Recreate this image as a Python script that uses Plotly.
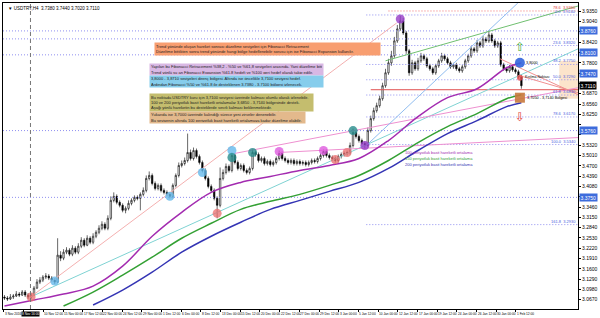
import plotly.graph_objects as go

# ---------------- data (USDTRY H4) ----------------
bars = list(range(176))
opens = [3.075,3.072,3.069,3.075,3.078,3.084,3.081,3.090,3.081,3.075,
3.081,3.102,3.120,3.126,3.135,3.138,3.132,3.126,3.120,3.201,
3.192,3.210,3.216,3.204,3.222,3.210,3.228,3.246,3.231,3.252,
3.240,3.258,3.270,3.282,3.294,3.282,3.312,3.366,3.378,3.360,
3.351,3.336,3.342,3.357,3.366,3.375,3.372,3.384,3.396,3.432,
3.441,3.417,3.402,3.411,3.396,3.390,3.384,3.378,3.411,3.441,
3.471,3.477,3.486,3.510,3.492,3.516,3.498,3.480,3.456,3.432,
3.408,3.396,3.372,3.351,3.432,3.450,3.468,3.456,3.501,3.480,
3.462,3.471,3.456,3.450,3.462,3.510,3.504,3.486,3.492,3.477,
3.483,3.474,3.480,3.492,3.507,3.492,3.486,3.480,3.486,3.477,
3.483,3.477,3.480,3.474,3.480,3.486,3.483,3.492,3.501,3.513,
3.501,3.495,3.492,3.486,3.498,3.504,3.507,3.510,3.531,3.570,
3.558,3.546,3.537,3.531,3.576,3.612,3.636,3.651,3.672,3.711,
3.750,3.780,3.801,3.846,3.882,3.906,3.870,3.816,3.750,3.780,
3.762,3.786,3.801,3.792,3.771,3.762,3.750,3.771,3.786,3.801,
3.792,3.780,3.768,3.774,3.762,3.756,3.768,3.786,3.801,3.822,
3.816,3.840,3.831,3.852,3.846,3.864,3.846,3.831,3.840,3.774,
3.762,3.756,3.768,3.759,3.753,3.738]
highs = [3.081,3.078,3.084,3.084,3.093,3.090,3.096,3.096,3.087,3.087,
3.108,3.129,3.135,3.141,3.147,3.144,3.138,3.132,3.252,3.213,
3.219,3.225,3.222,3.231,3.228,3.237,3.255,3.252,3.261,3.258,
3.267,3.276,3.291,3.303,3.300,3.321,3.378,3.390,3.384,3.366,
3.357,3.348,3.366,3.372,3.381,3.381,3.390,3.405,3.441,3.453,
3.447,3.423,3.417,3.417,3.402,3.396,3.390,3.417,3.447,3.480,
3.486,3.495,3.567,3.519,3.525,3.522,3.504,3.486,3.462,3.438,
3.414,3.402,3.378,3.465,3.459,3.477,3.474,3.510,3.507,3.486,
3.477,3.477,3.462,3.468,3.519,3.516,3.510,3.498,3.498,3.489,
3.489,3.486,3.498,3.516,3.513,3.498,3.492,3.492,3.492,3.489,
3.489,3.486,3.486,3.486,3.492,3.492,3.498,3.507,3.519,3.519,
3.507,3.501,3.498,3.504,3.510,3.513,3.516,3.540,3.582,3.576,
3.564,3.552,3.543,3.585,3.621,3.645,3.660,3.681,3.720,3.762,
3.792,3.816,3.858,3.894,3.921,3.915,3.876,3.822,3.789,3.786,
3.795,3.810,3.807,3.798,3.777,3.768,3.777,3.792,3.810,3.807,
3.798,3.786,3.780,3.780,3.768,3.774,3.792,3.807,3.831,3.828,
3.849,3.846,3.861,3.858,3.876,3.870,3.852,3.846,3.846,3.780,
3.768,3.774,3.774,3.765,3.759,3.744]
lows = [3.066,3.063,3.066,3.069,3.075,3.075,3.078,3.075,3.069,3.069,
3.078,3.099,3.114,3.120,3.129,3.126,3.120,3.114,3.117,3.183,
3.186,3.204,3.198,3.198,3.204,3.204,3.222,3.225,3.228,3.234,
3.234,3.252,3.264,3.276,3.276,3.276,3.306,3.360,3.354,3.345,
3.330,3.327,3.336,3.351,3.360,3.366,3.336,3.378,3.390,3.426,
3.411,3.396,3.396,3.390,3.384,3.378,3.372,3.372,3.405,3.435,
3.465,3.471,3.480,3.486,3.486,3.492,3.474,3.450,3.426,3.402,
3.390,3.366,3.312,3.345,3.426,3.444,3.450,3.450,3.474,3.456,
3.456,3.450,3.444,3.444,3.456,3.498,3.480,3.480,3.471,3.471,
3.468,3.468,3.474,3.486,3.486,3.480,3.474,3.474,3.471,3.471,
3.471,3.471,3.468,3.468,3.474,3.477,3.477,3.486,3.495,3.495,
3.489,3.486,3.480,3.480,3.492,3.498,3.501,3.504,3.525,3.552,
3.540,3.531,3.522,3.525,3.570,3.606,3.630,3.645,3.666,3.705,
3.744,3.771,3.795,3.840,3.876,3.864,3.807,3.741,3.744,3.756,
3.756,3.780,3.786,3.765,3.756,3.744,3.744,3.765,3.780,3.786,
3.774,3.762,3.762,3.756,3.750,3.750,3.762,3.780,3.795,3.810,
3.810,3.825,3.825,3.840,3.840,3.840,3.825,3.825,3.768,3.756,
3.750,3.750,3.753,3.747,3.732,3.702]
closes = [3.072,3.069,3.075,3.078,3.084,3.081,3.090,3.081,3.075,3.081,
3.102,3.120,3.126,3.135,3.138,3.132,3.126,3.120,3.201,3.192,
3.210,3.216,3.204,3.222,3.210,3.228,3.246,3.231,3.252,3.240,
3.258,3.270,3.282,3.294,3.282,3.312,3.366,3.378,3.360,3.351,
3.336,3.342,3.357,3.366,3.375,3.372,3.384,3.396,3.432,3.441,
3.417,3.402,3.411,3.396,3.390,3.384,3.378,3.411,3.441,3.471,
3.477,3.486,3.510,3.492,3.516,3.498,3.480,3.456,3.432,3.408,
3.396,3.372,3.351,3.432,3.450,3.468,3.456,3.501,3.480,3.462,
3.471,3.456,3.450,3.462,3.510,3.504,3.486,3.492,3.477,3.483,
3.474,3.480,3.492,3.507,3.492,3.486,3.480,3.486,3.477,3.483,
3.477,3.480,3.474,3.480,3.486,3.483,3.492,3.501,3.513,3.501,
3.495,3.492,3.486,3.498,3.504,3.507,3.510,3.531,3.570,3.558,
3.546,3.537,3.531,3.576,3.612,3.636,3.651,3.672,3.711,3.750,
3.780,3.801,3.846,3.882,3.906,3.870,3.816,3.750,3.780,3.762,
3.786,3.801,3.792,3.771,3.762,3.750,3.771,3.786,3.801,3.792,
3.780,3.768,3.774,3.762,3.756,3.768,3.786,3.801,3.822,3.816,
3.840,3.831,3.852,3.846,3.864,3.846,3.831,3.840,3.774,3.762,
3.756,3.768,3.759,3.753,3.738,3.711]

# moving averages
ma100_x = [0,10,20,30,40,50,60,70,80,90,100,110,120,130,140,150,160,170,175]
ma100_y = [3.048,3.066,3.084,3.108,3.168,3.258,3.330,3.390,3.420,3.438,3.456,3.471,3.492,3.546,3.618,3.675,3.702,3.765,3.780]
ma150_x = [20,30,40,50,60,70,80,90,100,110,120,130,140,150,160,170,175]
ma150_y = [3.048,3.090,3.141,3.195,3.252,3.297,3.339,3.363,3.384,3.411,3.441,3.486,3.540,3.588,3.627,3.672,3.684]
ma200_x = [30,40,50,60,70,80,90,100,110,120,130,140,150,160,170,175]
ma200_y = [3.051,3.096,3.150,3.210,3.258,3.300,3.339,3.366,3.393,3.420,3.462,3.516,3.567,3.606,3.648,3.660]
ma_names = ["100 periyotluk basit hareketli ortalama",
            "150 periyotluk basit hareketli ortalama",
            "200 periyotluk basit hareketli ortalama"]

# time axis labels (None = hidden under the crosshair date box)
x_labels = ["3 Nov 2016", None, "10 Nov 12:00", "15 Nov 00:00", "17 Nov 12:00",
            "22 Nov 00:00", "24 Nov 12:00", "29 Nov 00:00", "1 Dec 12:00", "6 Dec 00:00",
            "8 Dec 12:00", "13 Dec 00:00", "15 Dec 12:00", "20 Dec 00:00", "22 Dec 12:00",
            "27 Dec 00:00", "29 Dec 12:00", "3 Jan 00:00", "5 Jan 12:00", "10 Jan 00:00",
            "12 Jan 12:00", "17 Jan 00:00", "19 Jan 12:00", "24 Jan 00:00", "26 Jan 12:00",
            "30 Jan 00:00", "1 Feb 12:00"]
crosshair_bar = 8.8
crosshair_label = "8 Nov 16:00"

# horizontal levels
full_levels = [3.876, 3.852, 3.804, 3.576, 3.375]
fib_names = ["0.0", "23.6", "38.2", "50.0", "61.8", "78.6", "100.0", "161.8"]
fib_prices = [3.924, 3.832, 3.775, 3.729, 3.683, 3.617, 3.534, 3.293]
fib_start_bar = 122.5
red_fib_name = "78.6"
red_fib_price = 3.936
red_fib_start_bar = 130
break_level = 3.699
break_start_bar = 124
axis_marks = [3.876, 3.810, 3.747, 3.576, 3.375]
zone_top, zone_bottom = 3.786, 3.672

# trend lines (bar index, price)
trend_lines = [
    dict(x=[8.8, 194.2], y=[3.075, 3.822], color="#7FD3D3"),
    dict(x=[8.8, 132.8], y=[3.075, 3.900], color="#F4B0B0"),
    dict(x=[77.8, 194.2], y=[3.507, 3.705], color="#EE90D0"),
    dict(x=[92.8, 194.2], y=[3.510, 3.555], color="#EE90D0"),
    dict(x=[122.5, 173.8], y=[3.531, 3.960], color="#90BDF0"),
    dict(x=[129.0, 194.2], y=[3.786, 3.951], color="#70C070"),
    dict(x=[167.8, 194.2], y=[3.792, 3.684], color="#F09090"),
    dict(x=[174.5, 194.2], y=[3.741, 3.690], color="#F09090"),
]

# swing point markers
red_x, red_y = [9, 72, 112, 116], [3.075, 3.327, 3.489, 3.510]
lblue_x, lblue_y = [17, 56, 67, 77], [3.123, 3.378, 3.450, 3.516]
teal_x, teal_y = [77, 84, 118], [3.495, 3.510, 3.576]
mag_x, mag_y = [93, 108], [3.513, 3.516]
purp_x, purp_y = [122, 134], [3.531, 3.912]
last_bar = 174.5
target_up, break_pt, target_dn = 3.780, 3.735, 3.675
arrow_up_price, arrow_dn_price = 3.801, 3.645

# ---------------- figure ----------------
L, R, T, B = 2, 586, 2, 309
W, H = 600, 318
XMAX = -0.5 + (R - L) / 3.0
YMIN, YMAX = 3.039, 3.960
FONT = "Liberation Sans"

def px(x):
    return (x - L) / (R - L)

def py(y):
    return (B - y) / (B - T)

fig = go.Figure()
dotted = "1px,2px"
for lv in full_levels:
    fig.add_trace(go.Scatter(x=[-0.5, XMAX], y=[lv, lv], mode="lines",
                             line=dict(color="#8F8FF0", width=1, dash=dotted), hoverinfo="skip"))
for lv in fib_prices:
    fig.add_trace(go.Scatter(x=[fib_start_bar, XMAX], y=[lv, lv], mode="lines",
                             line=dict(color="#8F8FF0", width=1, dash=dotted), hoverinfo="skip"))
fig.add_trace(go.Scatter(x=[red_fib_start_bar, XMAX], y=[red_fib_price, red_fib_price], mode="lines",
                         line=dict(color="#F07070", width=1, dash=dotted), hoverinfo="skip"))
fig.add_trace(go.Scatter(x=[break_start_bar, XMAX], y=[break_level, break_level], mode="lines",
                         line=dict(color="#E05050", width=1), hoverinfo="skip"))
for tl in trend_lines:
    fig.add_trace(go.Scatter(x=tl["x"], y=tl["y"], mode="lines",
                             line=dict(color=tl["color"], width=1), hoverinfo="skip"))

ma_colors = ["#A32BB0", "#33A033", "#3434B4"]
for xs, ys, c in [(ma100_x, ma100_y, ma_colors[0]), (ma150_x, ma150_y, ma_colors[1]), (ma200_x, ma200_y, ma_colors[2])]:
    fig.add_trace(go.Scatter(x=xs, y=ys, mode="lines", line=dict(color=c, width=1.5, shape="spline"),
                             hoverinfo="skip"))

fig.add_trace(go.Candlestick(x=bars, open=opens, high=highs, low=lows, close=closes,
                             increasing=dict(line=dict(color="black", width=0.6), fillcolor="white"),
                             decreasing=dict(line=dict(color="black", width=0.6), fillcolor="black"),
                             whiskerwidth=0))

for xs, ys, c in [(red_x, red_y, "rgba(235,110,110,0.75)"), (lblue_x, lblue_y, "rgba(100,185,235,0.8)"),
                  (teal_x, teal_y, "rgba(40,140,140,0.8)"), (mag_x, mag_y, "rgba(220,80,220,0.75)"),
                  (purp_x, purp_y, "rgba(150,60,200,0.8)")]:
    fig.add_trace(go.Scatter(x=xs, y=ys, mode="markers", marker=dict(size=9, color=c), hoverinfo="skip"))
fig.add_trace(go.Scatter(x=[last_bar], y=[target_up], mode="markers",
                         marker=dict(size=10, color="rgba(50,100,220,0.9)"), hoverinfo="skip"))
fig.add_trace(go.Scatter(x=[last_bar], y=[target_dn], mode="markers",
                         marker=dict(size=10, symbol="square", color="rgba(200,120,60,0.9)"), hoverinfo="skip"))
fig.add_trace(go.Scatter(x=[last_bar], y=[break_pt], mode="markers",
                         marker=dict(size=6, color="rgba(230,80,80,0.8)"), hoverinfo="skip"))

ann = []
ann.append(dict(x=px(5), y=py(3), xref="paper", yref="paper", xanchor="left", yanchor="top",
                text="▼ USDTRY,H4  3.7380 3.7440 3.7020 3.7110", showarrow=False,
                font=dict(size=4.5, color="black", family=FONT)))

boxes = [
    (155, 41, 225, 12, "#F89E70",
     ["Trend yönünde oluşan hareket sonrası düzeltme seviyeleri için Fibonacci Retracement",
      "Düzeltme bittikten sonra trend yönünde hangi bölge hedeflenebilir sorusu için ise Fibonacci Expansion kullanılır."]),
    (150, 62, 173, 11, "#D9B8E4",
     ["Yapılan bu Fibonacci Retracement %38,2 - %50 ve %61,8 seviyeleri arasında. Yani düzeltme bitti.",
      "Trend yönlü şu an Fibonacci Expansion %61,8 hedefi ve %100 geri hedef olarak takip edilir."]),
    (150, 74, 173, 11, "#86CDEC",
     ["3,8000 - 3,8710 seviyeleri direnç bölgesi. Altında ise öncelikle 3,7100 seviyesi hedef.",
      "Ardından Fibonacci %50 ve %61,8 ile desteklenen 3,7380 - 3,7100 bölgesi izlenecek."]),
    (150, 92, 163, 17, "#C4BD6E",
     ["Bu noktada USDTRY kuru için 3,7100 seviyesi üzerinde kalması olumlu olarak izlenebilir.",
      "100 ve 200 periyotluk basit hareketli ortalamalar 3,6850 - 3,7140 bölgesinde destek.",
      "Aşağı yönlü hareketin bu desteklerde sınırlı kalması beklenmektedir."]),
    (150, 110, 155, 11, "#E3B98C",
     ["Yukarıda ise 3,7000 üzerinde kalındığı sürece yeni zirveler denenebilir.",
      "Bu seviyenin altında 100 periyotluk basit hareketli ortalamaya kadar düzeltme olabilir."]),
]
for bx, by, bw, bh, col, lines in boxes:
    ann.append(dict(x=px(bx), y=py(by), xref="paper", yref="paper", xanchor="left", yanchor="top",
                    text="<br>".join(lines), showarrow=False, align="left", valign="middle",
                    bgcolor=col, borderpad=1, width=bw - 2, height=bh - 2,
                    font=dict(size=4, color="#222", family=FONT)))

for name, pr in zip(fib_names, fib_prices):
    ann.append(dict(x=px(585), y=pr, xref="paper", yref="y", xanchor="right", yanchor="bottom",
                    text=f"{name}  {pr:.4f}", showarrow=False, borderpad=0,
                    font=dict(size=4, color="#4A60E0", family=FONT)))
ann.append(dict(x=px(585), y=red_fib_price, xref="paper", yref="y", xanchor="right", yanchor="bottom",
                text=f"{red_fib_name}  {red_fib_price:.4f}", showarrow=False, borderpad=0,
                font=dict(size=4, color="#E04040", family=FONT)))

ann.append(dict(x=last_bar, y=target_up, xref="x", yref="y", xanchor="left", xshift=5,
                text="3,8000", showarrow=False, borderpad=0, font=dict(size=3.8, color="black", family=FONT)))
ann.append(dict(x=last_bar, y=break_pt, xref="x", yref="y", xanchor="left", xshift=4, yshift=1,
                text="Kırılma Noktası", showarrow=False, borderpad=0,
                font=dict(size=3.6, color="black", family=FONT)))
ann.append(dict(x=last_bar, y=target_dn, xref="x", yref="y", xanchor="left", xshift=6,
                text="3,7050 - 3,7140 Bölgesi", showarrow=False, borderpad=0,
                font=dict(size=3.8, color="black", family=FONT)))
ann.append(dict(x=last_bar, y=arrow_up_price, xref="x", yref="y", text="⇧", showarrow=False,
                yanchor="bottom", font=dict(size=12, color="#3AAA3A", family="DejaVu Sans")))
ann.append(dict(x=last_bar, y=arrow_dn_price, xref="x", yref="y", text="⇩", showarrow=False,
                yanchor="top", font=dict(size=12, color="#E04040", family="DejaVu Sans")))

for i, (name, c) in enumerate(zip(ma_names, ma_colors)):
    ann.append(dict(x=px(481), y=py(152 + 6 * i), xref="paper", yref="paper", xanchor="right", yanchor="middle",
                    text=name, showarrow=False, font=dict(size=4, color=c, family=FONT)))

# axis highlighted price labels
for lv in axis_marks:
    ann.append(dict(x=1, y=lv, xref="paper", yref="y", xanchor="left", xshift=1, text=f"{lv:.4f}",
                    showarrow=False, bgcolor="#3D6CDC", borderpad=0.5,
                    font=dict(size=5, color="white", family=FONT)))
ann.append(dict(x=1, y=closes[-1], xref="paper", yref="y", xanchor="left", xshift=1, text=f"{closes[-1]:.4f}",
                showarrow=False, bgcolor="black", borderpad=0.5, font=dict(size=5, color="white", family=FONT)))

# y ticks: hide the ones covered by highlighted labels
marks_all = axis_marks + [closes[-1]]
ytick_vals, ytick_text = [], []
v = 3.036
while v <= YMAX:
    ytick_vals.append(v)
    covered = any(abs(v - m) < 0.018 for m in marks_all)
    ytick_text.append("" if covered else f"{v:.4f}")
    v = round(v + 0.031, 4)

# time labels
XFONT = 3.2
tick_pos = []
for k, lab in enumerate(x_labels):
    pos = (3 + 20 * k - 3.5) / 3.0
    tick_pos.append(pos)
    if lab:
        ann.append(dict(x=pos, y=0, xref="x", yref="paper", xanchor="left", yanchor="top", yshift=-1.5,
                        text=lab, showarrow=False, borderpad=0,
                        font=dict(size=XFONT, color="black", family=FONT)))
ann.append(dict(x=crosshair_bar, y=0, xref="x", yref="paper", xanchor="center", yanchor="top", yshift=-1.5,
                text=crosshair_label, showarrow=False, bgcolor="black", borderpad=0,
                font=dict(size=XFONT, color="white", family=FONT)))

shapes = [
    dict(type="rect", xref="paper", yref="y", x0=px(567), x1=px(586), y0=zone_bottom, y1=zone_top,
         fillcolor="rgba(250,205,160,0.55)", line=dict(width=0), layer="below"),
    dict(type="line", xref="x", yref="paper", x0=crosshair_bar, x1=crosshair_bar, y0=0, y1=1,
         line=dict(color="#777", width=1, dash="4px,3px")),
]

fig.update_layout(
    width=W, height=H, margin=dict(l=L, r=W - R, t=T, b=H - B),
    paper_bgcolor="white", plot_bgcolor="white", showlegend=False,
    annotations=ann, shapes=shapes,
    xaxis=dict(range=[-0.5, XMAX], showgrid=False, zeroline=False, showline=True, mirror=True,
               linecolor="black", linewidth=1, tickvals=tick_pos, ticktext=[""] * len(tick_pos),
               ticks="outside", ticklen=2, tickcolor="black", rangeslider=dict(visible=False),
               fixedrange=True),
    yaxis=dict(side="right", range=[YMIN, YMAX], tickvals=ytick_vals, ticktext=ytick_text,
               showgrid=False, zeroline=False, showline=True, mirror=True, linecolor="black", linewidth=1,
               ticks="outside", ticklen=2, tickcolor="black",
               tickfont=dict(size=5, color="black", family=FONT)),
)

fig.write_html("out.html")
